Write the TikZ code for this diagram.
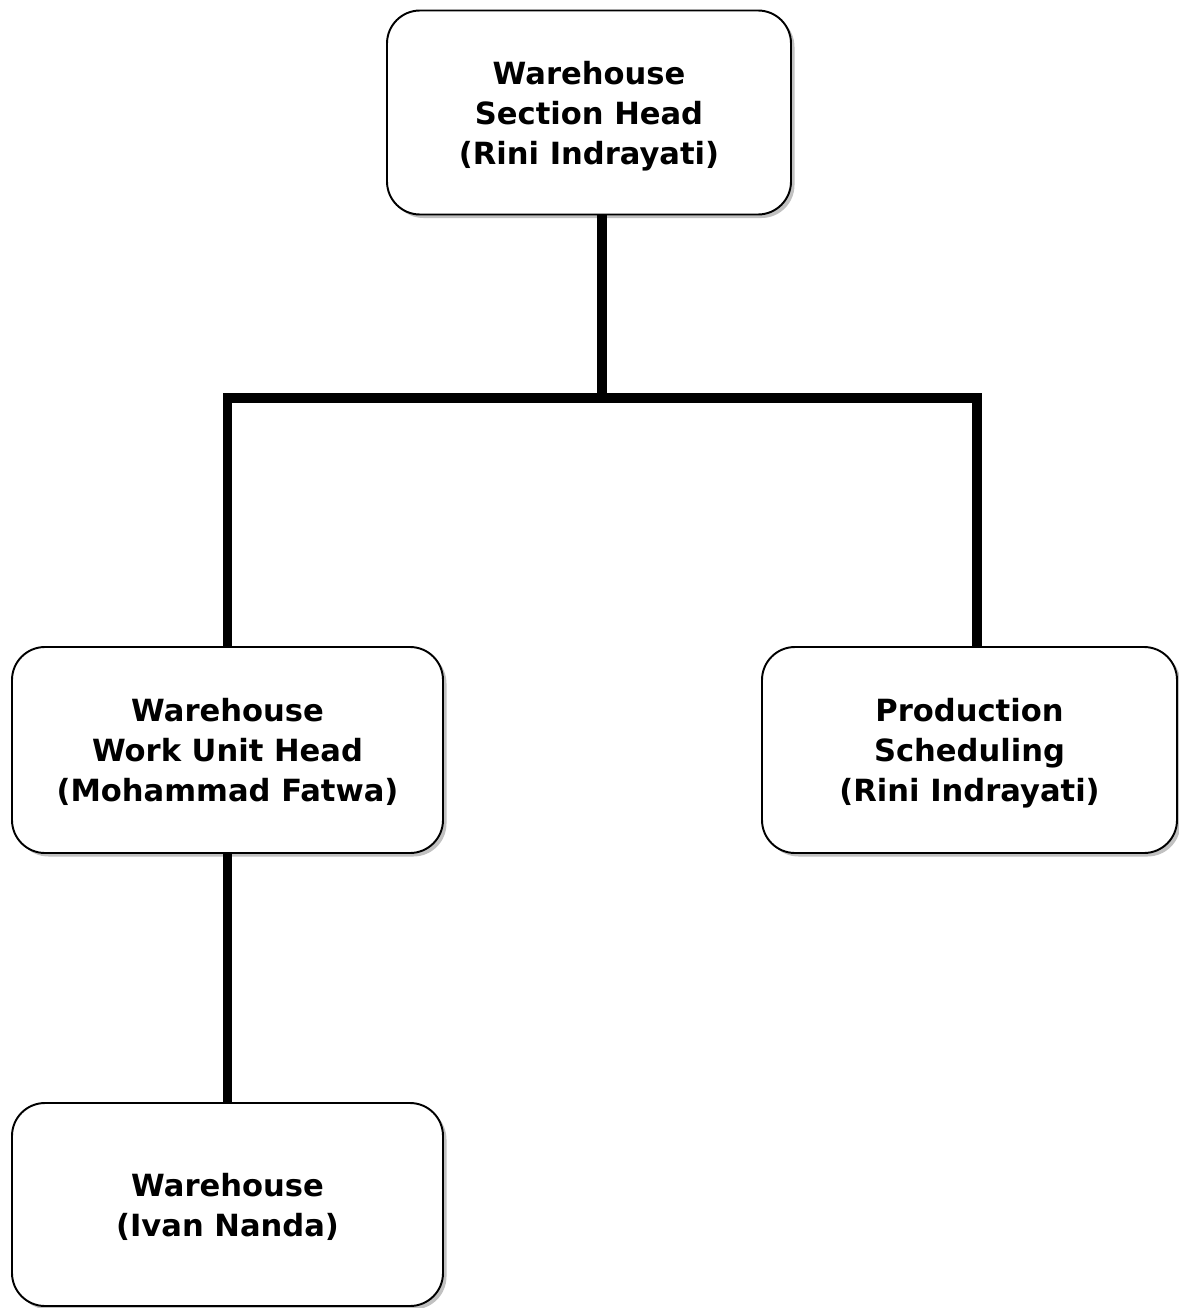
\documentclass[tikz,border=0pt]{standalone}
\usepackage{fontspec}
\setmainfont{DejaVu Sans}
\usepackage{tikz}
\usetikzlibrary{positioning,calc,shadows}

\tikzset{
  orgbox/.style={draw=black, line width=1.1pt, fill=white, rounded corners=0.66cm,
    align=center, inner sep=0pt, text depth=-5.2pt,
    font=\bfseries\fontsize{17.4}{22.8}\selectfont,
    drop shadow={shadow xshift=0.07cm, shadow yshift=-0.07cm, fill=black!35, opacity=0.7}},
  conn/.style={line width=5.2pt, black}
}

\begin{document}
\begin{tikzpicture}[x=0.02cm,y=-0.02cm]
			\useasboundingbox (0,0) rectangle (1179,1308);
			
			% khung
			\node[orgbox, minimum width=404*0.02cm, minimum height=204*0.02cm] (head) at (589,112.5)
				{Warehouse\\Section Head\\(Rini Indrayati)};
			\node[orgbox, minimum width=431*0.02cm, minimum height=206*0.02cm] (unit) at (227.5,750)
				{Warehouse\\Work Unit Head\\(Mohammad Fatwa)};
			\node[orgbox, minimum width=415*0.02cm, minimum height=206*0.02cm] (sched) at (969.5,750)
				{Production\\Scheduling\\(Rini Indrayati)};
			\node[orgbox, minimum width=431*0.02cm, minimum height=203*0.02cm] (store) at (227.5,1204.5)
				{Warehouse\\(Ivan Nanda)};
			
			% điểm rẽ
			\coordinate (split) at (602,398);
			\coordinate (rbend) at (977,398);
			
			% đường nối
			\draw[conn] (head.south -| split) -- (split);
			\draw[conn] (unit.north) |- (rbend) -- (sched.north -| rbend);
			\draw[conn] (unit.south) -- (store.north);
		\end{tikzpicture}
\end{document}
